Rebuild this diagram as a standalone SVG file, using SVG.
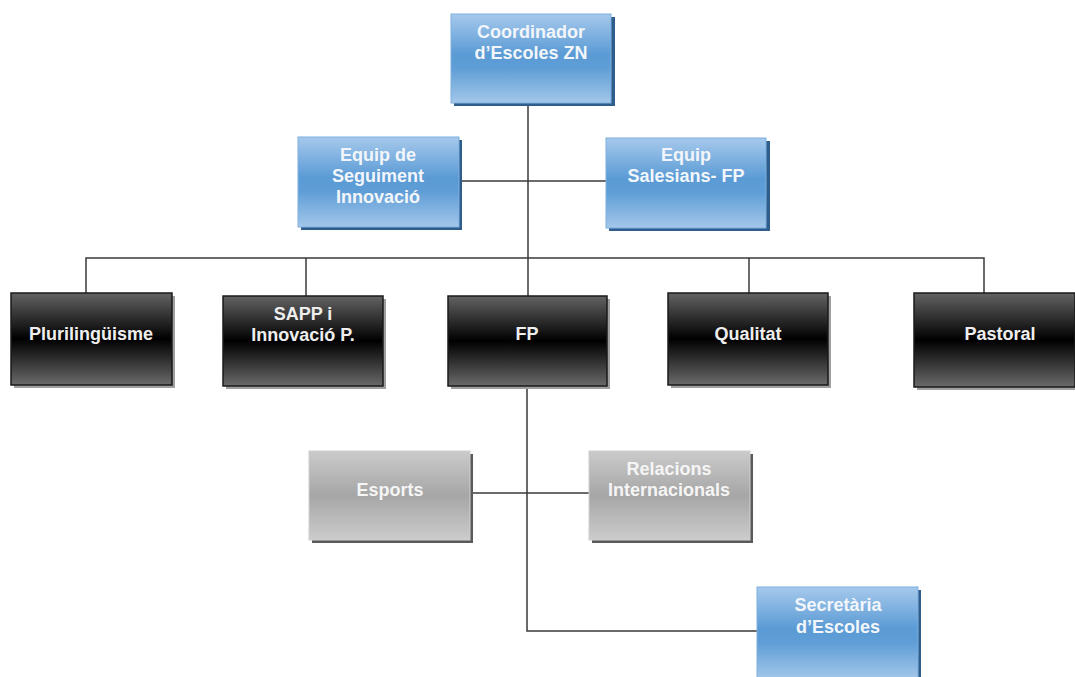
<svg xmlns="http://www.w3.org/2000/svg" width="1075" height="677" viewBox="0 0 1075 677">
<defs>
<linearGradient id="gBlue" x1="0" y1="0" x2="0" y2="1">
<stop offset="0" stop-color="#a6c9ec"/>
<stop offset="0.45" stop-color="#5b9bd5"/>
<stop offset="0.6" stop-color="#5e9dd6"/>
<stop offset="1" stop-color="#a3c7ea"/>
</linearGradient>
<linearGradient id="gDark" x1="0" y1="0" x2="0" y2="1">
<stop offset="0" stop-color="#636363"/>
<stop offset="0.5" stop-color="#000000"/>
<stop offset="1" stop-color="#6a6a6a"/>
</linearGradient>
<linearGradient id="gGray" x1="0" y1="0" x2="0" y2="1">
<stop offset="0" stop-color="#cbcbcb"/>
<stop offset="0.5" stop-color="#a6a6a6"/>
<stop offset="1" stop-color="#cccccc"/>
</linearGradient>
</defs>
<style>
.blue{fill:url(#gBlue);stroke:#7eb0e0;stroke-width:1}
.blueSh{fill:#2f5d8c}
.dark{fill:url(#gDark);stroke:#1a1a1a;stroke-width:1.5}
.darkSh{fill:#a0a0a0}
.gray{fill:url(#gGray);stroke:#d0d0d0;stroke-width:1}
.graySh{fill:#5a5a5a}
.t{font-family:"Liberation Sans",Arial,sans-serif;font-weight:bold;font-size:18px;fill:#ffffff;text-anchor:middle}
.tb{fill:#f2f6fa}
.td{fill:#eeeeee}
.tg{fill:#f5f5f5}
.c{fill:none;stroke:#3a3a3a;stroke-width:1.5}
</style>
<g id="connectors">
<path class="c" d="M528 104 V296"/>
<path class="c" d="M459 181 H606"/>
<path class="c" d="M86 293 V258 H984 V293"/>
<path class="c" d="M306 258 V296"/>
<path class="c" d="M749 258 V293"/>
<path class="c" d="M527 387 V631 H758"/>
<path class="c" d="M470 493 H589"/>
</g>
<g id="coordinador">
<rect class="blueSh" x="454" y="17" width="161" height="89"/>
<rect class="blue" x="451" y="14" width="160" height="89"/>
<text class="t tb" x="531" y="38">Coordinador</text>
<text class="t tb" x="531" y="59">d’Escoles ZN</text>
</g>
<g id="equip-seguiment">
<rect class="blueSh" x="301" y="140" width="161" height="90"/>
<rect class="blue" x="298" y="137" width="161" height="90"/>
<text class="t tb" x="378" y="161">Equip de</text>
<text class="t tb" x="378" y="182">Seguiment</text>
<text class="t tb" x="378" y="203">Innovació</text>
</g>
<g id="equip-salesians">
<rect class="blueSh" x="609" y="141" width="161" height="90"/>
<rect class="blue" x="606" y="138" width="160" height="90"/>
<text class="t tb" x="686" y="161">Equip</text>
<text class="t tb" x="686" y="182">Salesians- FP</text>
</g>
<g id="plurilinguisme">
<rect class="darkSh" x="14" y="296" width="161" height="92"/>
<rect class="dark" x="11" y="293" width="161" height="92"/>
<text class="t td" x="91" y="340">Plurilingüisme</text>
</g>
<g id="sapp">
<rect class="darkSh" x="226" y="299" width="160" height="90"/>
<rect class="dark" x="223" y="296" width="160" height="90"/>
<text class="t td" x="303" y="320">SAPP i</text>
<text class="t td" x="303" y="341">Innovació P.</text>
</g>
<g id="fp">
<rect class="darkSh" x="451" y="299" width="159" height="90"/>
<rect class="dark" x="448" y="296" width="159" height="90"/>
<text class="t td" x="527" y="340">FP</text>
</g>
<g id="qualitat">
<rect class="darkSh" x="671" y="296" width="160" height="92"/>
<rect class="dark" x="668" y="293" width="160" height="92"/>
<text class="t td" x="748" y="340">Qualitat</text>
</g>
<g id="pastoral">
<rect class="darkSh" x="917" y="296" width="161" height="94"/>
<rect class="dark" x="914" y="293" width="161" height="94"/>
<text class="t td" x="1000" y="340">Pastoral</text>
</g>
<g id="esports">
<rect class="graySh" x="312" y="454" width="161" height="89"/>
<rect class="gray" x="309" y="451" width="161" height="89"/>
<text class="t tg" x="390" y="496">Esports</text>
</g>
<g id="relacions">
<rect class="graySh" x="592" y="454" width="161" height="89"/>
<rect class="gray" x="589" y="451" width="161" height="89"/>
<text class="t tg" x="669" y="475">Relacions</text>
<text class="t tg" x="669" y="496">Internacionals</text>
</g>
<g id="secretaria">
<rect class="blueSh" x="760" y="590" width="161" height="90"/>
<rect class="blue" x="757" y="587" width="161" height="92"/>
<text class="t tb" x="838" y="611">Secretària</text>
<text class="t tb" x="838" y="633">d’Escoles</text>
</g>
</svg>
